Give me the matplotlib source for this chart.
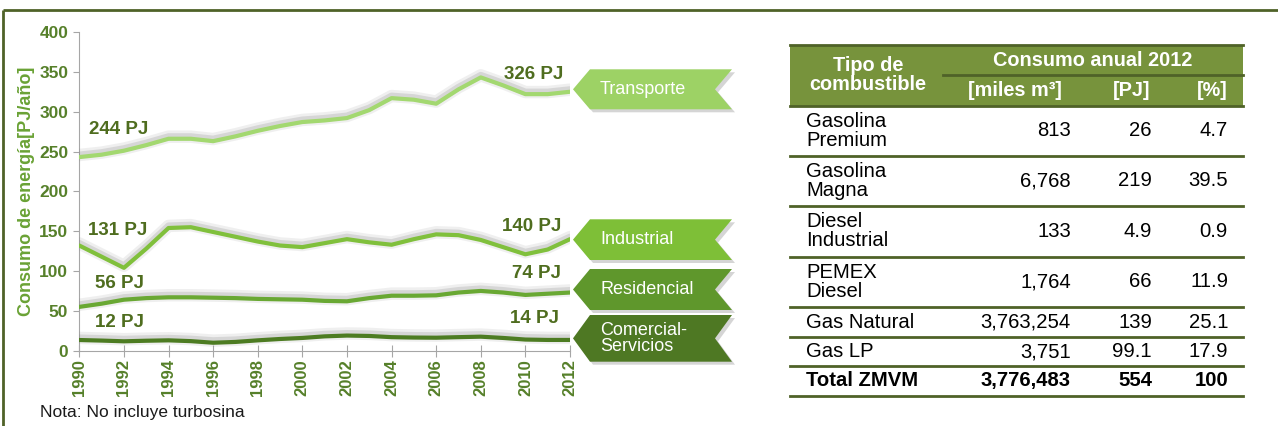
import matplotlib
matplotlib.use("Agg")
import matplotlib.pyplot as plt
import matplotlib.patheffects as pe
from matplotlib.patches import Polygon, Rectangle

years = list(range(1990, 2013))
transporte = [243, 246, 251, 258, 266, 266, 263, 269, 276, 282, 287, 289,
              292, 302, 317, 315, 310, 328, 343, 333, 322, 322, 325]
industrial = [132, 118, 104, 128, 154, 155, 149, 143, 137, 132, 130, 135,
              140, 136, 133, 140, 146, 145, 139, 130, 121, 127, 140]
residencial = [55, 59, 64, 66, 67, 67, 66.5, 66, 65, 64.5, 64, 62.5,
               62, 66, 69, 69, 69.5, 73, 75, 73, 70, 71.5, 73]
comercial = [13.4, 12.7, 11.8, 12.5, 13, 12, 10, 11, 13, 14.7, 16, 18,
             19, 18.5, 17, 16.5, 16.3, 17, 17.6, 16, 14, 13.5, 13.5]

sectors = ["Transporte", "Industrial", "Residencial", "Comercial-\nServicios"]
start_labels = ["244 PJ", "131 PJ", "56 PJ", "12 PJ"]
end_labels = ["326 PJ", "140 PJ", "74 PJ", "14 PJ"]

fuels = ["Gasolina\nPremium", "Gasolina\nMagna", "Diesel\nIndustrial",
         "PEMEX\nDiesel", "Gas Natural", "Gas LP", "Total ZMVM"]
miles_m3 = ["813", "6,768", "133", "1,764", "3,763,254", "3,751", "3,776,483"]
pj = ["26", "219", "4.9", "66", "139", "99.1", "554"]
pct = ["4.7", "39.5", "0.9", "11.9", "25.1", "17.9", "100"]

line_colors = ["#a3d870", "#80c03c", "#69a833", "#4d7c22"]
tag_colors = ["#9dd265", "#7ebf37", "#5f972c", "#4e7823"]
label_green = "#4f6d1f"
tick_green = "#56802a"
olive = "#4f6228"
header_bg = "#77933c"

W, H = 1278, 426
fig = plt.figure(figsize=(W / 100, H / 100), dpi=100)

# overlay in pixel coordinates for frame, tags and table
ov = fig.add_axes([0, 0, 1, 1])
ov.set_xlim(0, W)
ov.set_ylim(H, 0)
ov.axis("off")

ax = fig.add_axes([79.3 / W, 75.3 / H, (570 - 79.3) / W, (394 - 75.3) / H])
ax.set_xlim(1990, 2012)
ax.set_ylim(0, 400)

series = [transporte, industrial, residencial, comercial]
for vals, col in zip(series, line_colors):
    ax.plot(years, vals, color=col, lw=3, solid_capstyle="round", solid_joinstyle="round", zorder=3,
            path_effects=[pe.SimpleLineShadow(offset=(0, 1.5), shadow_color="#808080", alpha=0.12, linewidth=9),
                          pe.SimpleLineShadow(offset=(0, 1.5), shadow_color="#808080", alpha=0.22, linewidth=5),
                          pe.Normal()])

bold_font = ["Liberation Sans", "DejaVu Sans"]
start_pos = [(1990.45, 278), (1990.4, 151), (1990.7, 84), (1990.7, 35)]
end_pos = [(2011.7, 347), (2011.6, 156), (2011.6, 97.5), (2011.5, 41)]
for txt, (x, y) in zip(start_labels, start_pos):
    ax.text(x, y, txt, ha="left", va="center", fontsize=13.5, fontweight="bold",
            color=label_green, family=bold_font)
for txt, (x, y) in zip(end_labels, end_pos):
    ax.text(x, y, txt, ha="right", va="center", fontsize=13.5, fontweight="bold",
            color=label_green, family=bold_font)

for s in ["top", "right"]:
    ax.spines[s].set_visible(False)
for s in ["left", "bottom"]:
    ax.spines[s].set_color("#a6a6a6")
ax.set_yticks(range(0, 401, 50))
ax.set_xticks(range(1990, 2013, 2))
ax.tick_params(axis="y", direction="out", length=4, color="#a6a6a6",
               labelsize=12.5, labelcolor=tick_green, pad=4)
ax.tick_params(axis="x", direction="inout", length=8, color="#a6a6a6",
               labelsize=12, labelcolor=tick_green, labelrotation=90, pad=2)
for lab in ax.get_xticklabels() + ax.get_yticklabels():
    lab.set_fontweight("bold")
    lab.set_family("Liberation Sans")
ax.set_ylabel("Consumo de energía[PJ/año]", fontsize=13, fontweight="bold",
              color="#6aa235", family="Liberation Sans", labelpad=3)
ax.patch.set_alpha(0)

# frame
ov.plot([3, W], [10, 10], color=olive, lw=2, solid_capstyle="butt")
ov.plot([3, 3], [10, H], color=olive, lw=2, solid_capstyle="butt")

ov.text(40, 413, "Nota: No incluye turbosina", fontsize=12.5, family="Liberation Sans",
        ha="left", va="center", color="#1a1a1a")

# sector tags
tag_boxes = [(69.3, 109.3), (219.3, 260), (269, 310), (315, 361.7)]
for name, col, (top, bot) in zip(sectors, tag_colors, tag_boxes):
    mid = (top + bot) / 2
    pts = [(573, mid), (590, top), (732, top), (715, mid), (732, bot), (590, bot)]
    shadow = [(x + 3, y + 3) for x, y in pts]
    ov.add_patch(Polygon(shadow, closed=True, facecolor="#888888", alpha=0.35, lw=0))
    ov.add_patch(Polygon(pts, closed=True, facecolor=col, lw=0))
    ov.text(600, mid, name, ha="left", va="center", color="white", fontsize=13,
            family="Liberation Sans", linespacing=0.95)

# table
tl, tr = 790, 1243
ov.add_patch(Rectangle((tl, 44.7), tr - tl, 106 - 44.7, facecolor=header_bg, lw=0))
ov.plot([tl, tr], [44.7, 44.7], color=olive, lw=2)
ov.plot([943, tr], [74.5, 74.5], color=olive, lw=2)
ov.plot([tl, tr], [106, 106], color=olive, lw=2)
hdr = dict(color="white", fontsize=14.3, fontweight="bold", family="Liberation Sans")
ov.text(868, 75, "Tipo de\ncombustible", ha="center", va="center", linespacing=1.05, **hdr)
ov.text(1093, 60.7, "Consumo anual 2012", ha="center", va="center", **hdr)
ov.text(1015, 90, "[miles m³]", ha="center", va="center", **hdr)
ov.text(1132, 90, "[PJ]", ha="center", va="center", **hdr)
ov.text(1212, 90, "[%]", ha="center", va="center", **hdr)

row_edges = [106, 156, 206, 256.7, 306.7, 337.3, 366, 395.7]
for i, fuel in enumerate(fuels):
    top, bot = row_edges[i], row_edges[i + 1]
    yc = (top + bot) / 2
    wt = "bold" if i == len(fuels) - 1 else "normal"
    body = dict(color="black", fontsize=14.6, fontweight=wt, family="Liberation Sans", va="center")
    ov.text(806, yc, fuel, ha="left", linespacing=1.0, **body)
    ov.text(1071, yc, miles_m3[i], ha="right", **body)
    ov.text(1152, yc, pj[i], ha="right", **body)
    ov.text(1228, yc, pct[i], ha="right", **body)
    ov.plot([tl, tr], [bot, bot], color=olive, lw=2)

fig.savefig("out.png", dpi=100)
